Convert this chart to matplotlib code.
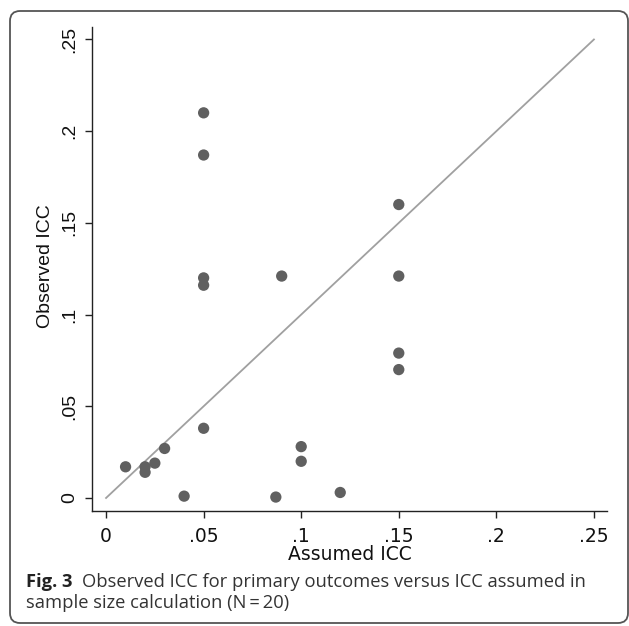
import matplotlib
matplotlib.use("Agg")
import matplotlib.pyplot as plt
from matplotlib.patches import FancyBboxPatch
from matplotlib.transforms import IdentityTransform

# Data
assumed_icc = [0.05, 0.05, 0.05, 0.05, 0.09, 0.15, 0.15, 0.15, 0.15, 0.12,
               0.10, 0.10, 0.05, 0.03, 0.025, 0.01, 0.02, 0.02, 0.04, 0.087]
observed_icc = [0.210, 0.187, 0.120, 0.116, 0.121, 0.160, 0.121, 0.079, 0.070, 0.003,
                0.028, 0.020, 0.038, 0.027, 0.019, 0.017, 0.017, 0.014, 0.001, 0.0005]
ref_line = [0.0, 0.25]
tick_vals = [0, 0.05, 0.10, 0.15, 0.20, 0.25]
tick_labels = ["0", ".05", ".1", ".15", ".2", ".25"]

W, H = 629, 626
fig = plt.figure(figsize=(W / 100, H / 100), dpi=100)
ax_l, ax_r, ax_t, ax_b = 92, 607, 27, 511
ax = fig.add_axes([ax_l / W, 1 - ax_b / H, (ax_r - ax_l) / W, (ax_b - ax_t) / H])

xfont = "DejaVu Sans"
yfont = "Liberation Sans"
ax.plot(ref_line, ref_line, color="#a0a0a0", lw=1.3, zorder=1)
ax.scatter(assumed_icc, observed_icc, s=66, color="#606060", edgecolors="none", zorder=2)

ax.set_xlim(-0.0072, 0.2567)
ax.set_ylim(-0.0071, 0.2568)
ax.set_xticks(tick_vals)
ax.set_xticklabels(tick_labels, fontsize=13.5, fontfamily=xfont)
ax.set_yticks(tick_vals)
ax.set_yticklabels(tick_labels, fontsize=14, fontfamily=yfont, rotation=90, va="center")
for s in ["top", "right"]:
    ax.spines[s].set_visible(False)
for s in ["left", "bottom"]:
    ax.spines[s].set_color("#222222")
    ax.spines[s].set_linewidth(1.0)
ax.tick_params(direction="out", length=5.3, width=1.0, color="#222222", labelcolor="#111111")
ax.tick_params(axis="x", pad=6)
ax.tick_params(axis="y", pad=4.5)

ax.set_xlabel("Assumed ICC", fontsize=13.5, fontfamily=xfont, color="#111111")
ax.xaxis.label.set_va("baseline")
ax.xaxis.set_label_coords(0.5, (H - 560.5 - (H - ax_b)) / (ax_b - ax_t))
ax.set_ylabel("Observed ICC", fontsize=14, fontfamily=yfont, color="#111111")
ax.yaxis.label.set_va("baseline")
ax.yaxis.set_label_coords((50 - ax_l) / (ax_r - ax_l), (H - 266 - (H - ax_b)) / (ax_b - ax_t))

# Caption
capfont = "Open Sans"
t1 = fig.text(26 / W, 1 - 587 / H, "Fig. 3", fontsize=13.2, fontweight="bold",
              fontfamily=capfont, color="#222222", va="baseline")
fig.canvas.draw()
bb = t1.get_window_extent()
fig.text((bb.x1 + 10) / W, 1 - 587 / H,
         "Observed ICC for primary outcomes versus ICC assumed in",
         fontsize=13.2, fontfamily=capfont, color="#333333", va="baseline")
fig.text(26 / W, 1 - 607.5 / H, "sample size calculation (N\u2009=\u200920)",
         fontsize=13.2, fontfamily=capfont, color="#333333", va="baseline")

# Rounded border
border = FancyBboxPatch((10, 3), 618, 612, boxstyle="round,pad=0,rounding_size=10",
                        transform=IdentityTransform(), fill=False,
                        edgecolor="#555555", lw=1.3, figure=fig)
fig.patches.append(border)

fig.savefig("out.png", dpi=100)
